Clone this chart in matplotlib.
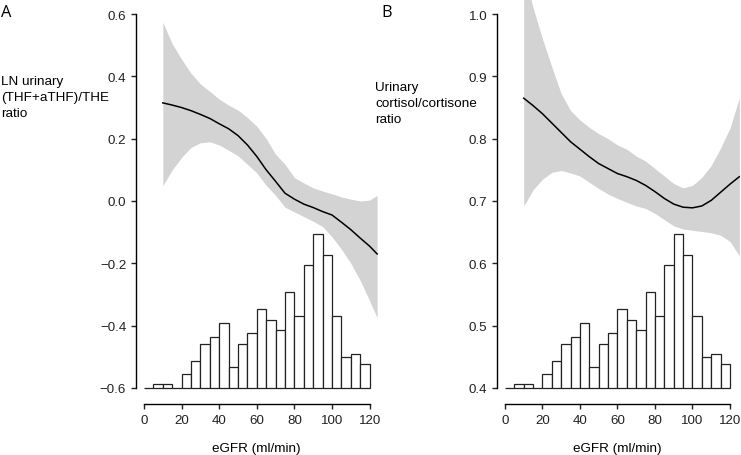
import matplotlib
matplotlib.use("Agg")
import matplotlib.pyplot as plt
import numpy as np

# eGFR grid for the fitted curves
egfr = [10, 15, 20, 25, 30, 35, 40, 45, 50, 55, 60, 65, 70, 75, 80, 85, 90, 95,
        100, 105, 110, 115, 120, 124]

# A: LN urinary (THF+aTHF)/THE ratio
fit_a = [0.315, 0.308, 0.300, 0.290, 0.278, 0.265, 0.248, 0.232, 0.210, 0.180,
         0.143, 0.100, 0.063, 0.025, 0.006, -0.010, -0.021, -0.034, -0.045,
         -0.068, -0.092, -0.119, -0.145, -0.170]
upper_a = [0.574, 0.505, 0.455, 0.410, 0.376, 0.352, 0.327, 0.308, 0.292, 0.268,
           0.240, 0.200, 0.150, 0.118, 0.075, 0.058, 0.042, 0.032, 0.023, 0.013,
           0.006, 0.000, 0.003, 0.018]
lower_a = [0.049, 0.100, 0.140, 0.172, 0.187, 0.190, 0.180, 0.163, 0.145, 0.118,
           0.090, 0.050, 0.018, -0.020, -0.035, -0.050, -0.065, -0.082, -0.115,
           -0.155, -0.200, -0.255, -0.320, -0.375]

# B: urinary cortisol/cortisone ratio
egfr_b = [10, 15, 20, 25, 30, 35, 40, 45, 50, 55, 60, 65, 70, 75, 80, 85, 90, 95,
          100, 105, 110, 115, 120, 125]
fit_b = [0.865, 0.853, 0.840, 0.825, 0.810, 0.795, 0.783, 0.771, 0.760, 0.752,
         0.744, 0.739, 0.733, 0.725, 0.715, 0.704, 0.695, 0.690, 0.689, 0.692,
         0.701, 0.714, 0.727, 0.739]
upper_b = [1.070, 1.010, 0.960, 0.915, 0.872, 0.845, 0.830, 0.818, 0.808, 0.800,
           0.790, 0.783, 0.772, 0.764, 0.752, 0.740, 0.728, 0.721, 0.725, 0.738,
           0.757, 0.785, 0.817, 0.866]
lower_b = [0.692, 0.718, 0.735, 0.746, 0.749, 0.745, 0.740, 0.730, 0.720, 0.711,
           0.704, 0.698, 0.692, 0.688, 0.680, 0.670, 0.660, 0.655, 0.653, 0.651,
           0.649, 0.645, 0.635, 0.612]

# eGFR distribution (5 ml/min bins from 0 to 120)
bin_edges = list(range(0, 125, 5))
counts = [0, 1, 1, 0, 4, 8, 13, 15, 19, 6, 13, 16, 23, 20, 17, 28, 21, 36, 45,
          39, 21, 9, 10, 7]

yticks_a = [-0.6, -0.4, -0.2, 0.0, 0.2, 0.4, 0.6]
yticks_b = [0.4, 0.5, 0.6, 0.7, 0.8, 0.9, 1.0]
xticks = [0, 20, 40, 60, 80, 100, 120]

ylabel_a = ["LN urinary", "(THF+aTHF)/THE", "ratio"]
ylabel_b = ["Urinary", "cortisol/cortisone", "ratio"]

W, H = 741, 456
plt.rcParams["font.family"] = ["Liberation Sans", "DejaVu Sans"]
fig = plt.figure(figsize=(W / 100, H / 100), dpi=100)


def box(left, right, top, bottom):
    return [left / W, 1 - bottom / H, (right - left) / W, (bottom - top) / H]


def panel(rect, x, fit, lo, hi, yticks, ylim, xlim):
    ax = fig.add_axes(rect)
    ax.fill_between(x, lo, hi, color="#d3d3d3", lw=0, zorder=1)
    ax.plot(x, fit, color="black", lw=1.1, zorder=3)
    base = yticks[0]
    span = yticks[-1] - yticks[0]
    unit = 0.411 * span / max(counts)
    heights = [c * unit for c in counts]
    ax.bar(bin_edges[:-1], heights, width=5, bottom=base, align="edge",
           facecolor="white", edgecolor="#222222", lw=0.9, zorder=2)
    ax.set_xlim(*xlim)
    ax.set_ylim(*ylim)
    for s in ("top", "right"):
        ax.spines[s].set_visible(False)
    ax.spines["left"].set_position(("outward", 3.05))
    ax.spines["bottom"].set_position(("outward", 8.6))
    ax.spines["left"].set_bounds(yticks[0], yticks[-1])
    ax.spines["bottom"].set_bounds(0, 120)
    for s in ("left", "bottom"):
        ax.spines[s].set_linewidth(1.0)
    ax.set_yticks(yticks)
    ax.set_yticklabels([f"{v:.1f}".replace("-", "\u2212") for v in yticks])
    ax.set_xticks(xticks)
    ax.tick_params(direction="out", length=3.6, width=1.0, labelsize=9.6,
                   pad=3.5, colors="#222222")
    ax.patch.set_alpha(0)
    return ax


panel(box(140.24, 380.88, 0, 393), egfr, fit_a, lower_a, upper_a,
      yticks_a, (-0.6132, 0.6485), (-2, 126))
panel(box(501.25, 740.3, 0, 393), egfr_b, fit_b, lower_b, upper_b,
      yticks_b, (0.3934, 1.0242), (-2, 125.5))

# x-axis titles (baseline near the bottom edge, as in the source figure)
fig.text(256.8 / W, 1 - 452 / H, "eGFR (ml/min)", fontsize=9.7,
         ha="center", va="baseline")
fig.text(617.5 / W, 1 - 452 / H, "eGFR (ml/min)", fontsize=9.7,
         ha="center", va="baseline")

# y titles sit above-left of the axes, one line at a time
for i, line in enumerate(ylabel_a):
    fig.text(1 / W, 1 - (85 + 16 * i) / H, line, fontsize=9.7,
             ha="left", va="baseline")
for i, line in enumerate(ylabel_b):
    fig.text(375 / W, 1 - (91 + 16 * i) / H, line, fontsize=9.7,
             ha="left", va="baseline")

fig.text(1 / W, 1 - 5 / H, "A", fontsize=11.8, va="top", ha="left",
         family=["Open Sans", "DejaVu Sans"])
fig.text(381 / W, 1 - 5 / H, "B", fontsize=11.8, va="top", ha="left",
         family=["Open Sans", "DejaVu Sans"])

fig.savefig("out.png", dpi=100)
